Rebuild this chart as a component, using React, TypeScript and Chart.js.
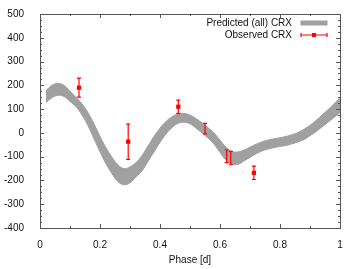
import React, { useEffect, useRef } from "react";
import { Chart, registerables } from "chart.js";
Chart.register(...registerables);

const bandPhase = [
  0.02, 0.04, 0.06, 0.08, 0.1, 0.12, 0.14, 0.16, 0.18, 0.2,
  0.22, 0.24, 0.26, 0.28, 0.3, 0.32, 0.34, 0.36, 0.38, 0.4,
  0.42, 0.44, 0.46, 0.48, 0.5, 0.52, 0.54, 0.56, 0.58, 0.6,
  0.62, 0.64, 0.66, 0.68, 0.7, 0.72, 0.74, 0.76, 0.78, 0.8,
  0.82, 0.84, 0.86, 0.88, 0.9, 0.92, 0.94, 0.96, 0.98, 1.0,
];
const bandUpper = [
  178, 200, 208, 200, 175, 150, 122, 85, 38, -15,
  -62, -102, -135, -150, -143, -125, -95, -55, -15, 20,
  48, 68, 80, 82, 75, 60, 42, 22, 0, -30,
  -60, -78, -80, -72, -60, -48, -38, -30, -25, -20,
  -15, -8, 2, 15, 32, 52, 75, 98, 122, 148,
];
const bandLower = [
  128, 148, 158, 153, 132, 110, 75, 30, -25, -80,
  -130, -172, -205, -218, -210, -185, -160, -120, -80, -40,
  -5, 22, 40, 45, 38, 20, 0, -22, -48, -82,
  -115, -132, -132, -118, -103, -88, -76, -68, -62, -57,
  -53, -46, -38, -28, -12, 5, 25, 45, 65, 85,
];

const obsPhase = [0.13, 0.294, 0.461, 0.55, 0.622, 0.636, 0.713];
const obsValue = [190, -37, 110, 18, -98, -106, -168];
const obsError = [40, 74, 28, 22, 27, 28, 28];

const xTicks = [0, 0.2, 0.4, 0.6, 0.8, 1];
const yTicks = [-400, -300, -200, -100, 0, 100, 200, 300, 400, 500];
const xMinorTicks = [0, 0.1, 0.2, 0.3, 0.4, 0.5, 0.6, 0.7, 0.8, 0.9, 1];

const legendLabels = ["Predicted (all) CRX", "Observed CRX"];
const xTitle = "Phase [d]";

const FONT = '"Liberation Sans", Arial, Helvetica, sans-serif';
const BAND = "#a0a0a0";
const RED = "#ff0000";
const FRAME = "#555555";

const customPlugin = {
  id: "gnuplotStyle",
  afterDatasetsDraw(chart: any) {
    const ctx = chart.ctx;
    const xs = chart.scales.x;
    const ys = chart.scales.y;
    ctx.save();
    ctx.strokeStyle = RED;
    ctx.lineWidth = 1.2;
    for (let i = 0; i < obsPhase.length; i++) {
      const px = xs.getPixelForValue(obsPhase[i]);
      const top = ys.getPixelForValue(obsValue[i] + obsError[i]);
      const bot = ys.getPixelForValue(obsValue[i] - obsError[i]);
      ctx.beginPath();
      ctx.moveTo(px, top);
      ctx.lineTo(px, bot);
      ctx.moveTo(px - 2, top);
      ctx.lineTo(px + 2, top);
      ctx.moveTo(px - 2, bot);
      ctx.lineTo(px + 2, bot);
      ctx.stroke();
    }
    ctx.restore();
  },
  afterDraw(chart: any) {
    const ctx = chart.ctx;
    const { left, right, top, bottom } = chart.chartArea;
    const xs = chart.scales.x;
    const ys = chart.scales.y;
    ctx.save();
    ctx.strokeStyle = FRAME;
    ctx.lineWidth = 1;
    ctx.strokeRect(Math.round(left) + 0.5, Math.round(top) + 0.5, Math.round(right - left), Math.round(bottom - top));
    ctx.beginPath();
    xMinorTicks.forEach((v, i) => {
      const px = Math.round(xs.getPixelForValue(v)) + 0.5;
      const len = i % 2 === 0 ? 4 : 2;
      ctx.moveTo(px, bottom);
      ctx.lineTo(px, bottom - len);
      ctx.moveTo(px, top);
      ctx.lineTo(px, top + len);
    });
    for (let v = -400; v <= 500; v += 25) {
      const py = Math.round(ys.getPixelForValue(v)) + 0.5;
      const len = v % 100 === 0 ? 4 : 2;
      ctx.moveTo(left, py);
      ctx.lineTo(left + len, py);
      ctx.moveTo(right, py);
      ctx.lineTo(right - len, py);
    }
    ctx.stroke();

    ctx.font = "10px " + FONT;
    ctx.fillStyle = "#111";
    ctx.textAlign = "right";
    ctx.textBaseline = "middle";
    const tx = right - 48;
    const y1 = top + 9;
    const y2 = top + 21;
    ctx.fillText(legendLabels[0], tx, y1);
    ctx.fillText(legendLabels[1], tx, y2);
    ctx.fillStyle = BAND;
    ctx.fillRect(right - 39.5, y1 - 2.5, 27, 5);
    ctx.strokeStyle = RED;
    ctx.lineWidth = 1.2;
    ctx.beginPath();
    ctx.moveTo(right - 39, y2);
    ctx.lineTo(right - 13, y2);
    ctx.moveTo(right - 39, y2 - 2);
    ctx.lineTo(right - 39, y2 + 2);
    ctx.moveTo(right - 13, y2 - 2);
    ctx.lineTo(right - 13, y2 + 2);
    ctx.stroke();
    ctx.fillStyle = RED;
    ctx.fillRect(right - 28, y2 - 2, 4, 4);
    ctx.restore();
  },
};

export default function App() {
  const ref = useRef<HTMLCanvasElement | null>(null);
  useEffect(() => {
    if (!ref.current) return;
    const chart = new Chart(ref.current, {
      type: "line",
      data: {
        datasets: [
          {
            label: "lower",
            data: bandPhase.map((p, i) => ({ x: p, y: bandLower[i] })),
            borderColor: BAND,
            backgroundColor: BAND,
            borderWidth: 1,
            pointRadius: 0,
            tension: 0.4,
            fill: false,
          },
          {
            label: legendLabels[0],
            data: bandPhase.map((p, i) => ({ x: p, y: bandUpper[i] })),
            borderColor: BAND,
            backgroundColor: BAND,
            borderWidth: 1,
            pointRadius: 0,
            tension: 0.4,
            fill: "-1",
          },
          {
            label: legendLabels[1],
            data: obsPhase.map((p, i) => ({ x: p, y: obsValue[i] })),
            showLine: false,
            pointStyle: "rect",
            pointRadius: 3,
            pointBackgroundColor: RED,
            pointBorderColor: RED,
            pointBorderWidth: 0,
            borderColor: RED,
            backgroundColor: RED,
          },
        ],
      },
      options: {
        animation: false,
        responsive: false,
        maintainAspectRatio: false,
        layout: { padding: { top: 12, right: 19, left: 0, bottom: 0 } },
        plugins: {
          legend: { display: false },
          tooltip: { enabled: false },
        },
        scales: {
          x: {
            type: "linear",
            min: 0,
            max: 1,
            grid: { display: false },
            border: { display: false },
            afterBuildTicks: (s: any) => {
              s.ticks = xTicks.map((v) => ({ value: v }));
            },
            afterFit: (s: any) => {
              s.height = 41;
            },
            ticks: {
              padding: 3,
              color: "#111",
              font: { family: FONT, size: 10 },
              maxRotation: 0,
              callback: (v: any) => String(Math.round(Number(v) * 10) / 10),
            },
            title: {
              display: true,
              text: xTitle,
              color: "#111",
              font: { family: FONT, size: 10 },
              padding: { top: 0, bottom: 3 },
            },
          },
          y: {
            type: "linear",
            min: -400,
            max: 500,
            grid: { display: false },
            border: { display: false },
            afterBuildTicks: (s: any) => {
              s.ticks = yTicks.map((v) => ({ value: v }));
            },
            afterFit: (s: any) => {
              s.width = 40;
            },
            ticks: {
              padding: 8,
              color: "#111",
              font: { family: FONT, size: 10 },
              callback: (v: any) => String(v),
            },
          },
        },
      },
      plugins: [customPlugin],
    });
    return () => chart.destroy();
  }, []);
  return (
    <div style={{ position: "absolute", left: 0, top: 0, width: 359, height: 269, background: "#fff" }}>
      <canvas ref={ref} width={359} height={269} style={{ display: "block" }} />
    </div>
  );
}
